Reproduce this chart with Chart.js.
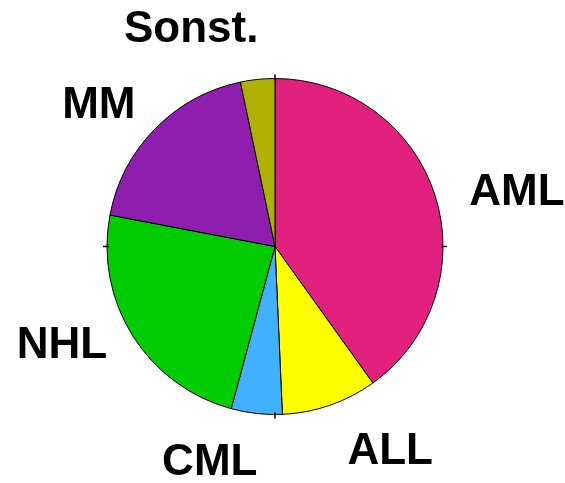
<!DOCTYPE html>
<html>
<head>
<meta charset="utf-8">
<script src="https://cdn.jsdelivr.net/npm/chart.js@4"></script>
<style>
  html, body { margin: 0; padding: 0; background: #fff; }
  #wrap { width: 565px; height: 483px; }
</style>
</head>
<body>
<div id="wrap"><canvas id="pieChart" width="565" height="483"></canvas></div>
<script>
// values (share of the pie, %)
var categories = ['AML', 'ALL', 'CML', 'NHL', 'MM', 'Sonst.'];
var shares = [40.1, 9.2, 4.9, 23.8, 18.7, 3.3];
var sliceColors = ['#E2217F', '#FFFF00', '#40B0FF', '#00CC00', '#8E1FAE', '#B0B000'];

// pixel nudges for each label, relative to a point out along the slice middle
var labelNudge = [[23, 17], [40, -12], [-40, -12], [-18, -23], [-12, 20], [-60, 12]];

// outside labels
var outsideLabels = {
  id: 'outsideLabels',
  afterDatasetsDraw: function(chart) {
    var ctx = chart.ctx;
    var meta = chart.getDatasetMeta(0);
    ctx.save();
    ctx.font = 'bold 44px "Liberation Sans", Arial, sans-serif';
    ctx.fillStyle = '#000';
    ctx.textAlign = 'center';
    ctx.textBaseline = 'middle';
    meta.data.forEach(function(arc, i) {
      var p = arc.getProps(['x', 'y', 'startAngle', 'endAngle', 'outerRadius'], true);
      var mid = (p.startAngle + p.endAngle) / 2;
      var r = p.outerRadius + 62;
      var x = p.x + Math.cos(mid) * r + labelNudge[i][0];
      var y = p.y + Math.sin(mid) * r + labelNudge[i][1];
      ctx.fillText(chart.data.labels[i], x, y);
    });
    ctx.restore();
  }
};

// little tick marks at 12, 3, 6 and 9 o'clock
var rimTicks = {
  id: 'rimTicks',
  afterDatasetsDraw: function(chart) {
    var ctx = chart.ctx;
    var arc = chart.getDatasetMeta(0).data[0];
    var p = arc.getProps(['x', 'y', 'outerRadius'], true);
    ctx.save();
    ctx.strokeStyle = '#000';
    ctx.lineWidth = 1.5;
    for (var k = 0; k < 4; k++) {
      var a = k * Math.PI / 2;
      ctx.beginPath();
      ctx.moveTo(p.x + Math.cos(a) * (p.outerRadius - 2), p.y + Math.sin(a) * (p.outerRadius - 2));
      ctx.lineTo(p.x + Math.cos(a) * (p.outerRadius + 4), p.y + Math.sin(a) * (p.outerRadius + 4));
      ctx.stroke();
    }
    ctx.restore();
  }
};

var ctx = document.getElementById('pieChart').getContext('2d');
var pieChart = new Chart(ctx, {
  type: 'pie',
  data: {
    labels: categories,
    datasets: [{
      data: shares,
      backgroundColor: sliceColors,
      borderColor: '#000',
      borderWidth: 1
    }]
  },
  options: {
    responsive: false,
    animation: false,
    layout: {
      padding: { top: 78, bottom: 68, left: 106.5, right: 121.5 }
    },
    plugins: {
      legend: { display: false },
      tooltip: { enabled: false }
    }
  },
  plugins: [outsideLabels, rimTicks]
});
</script>
</body>
</html>
